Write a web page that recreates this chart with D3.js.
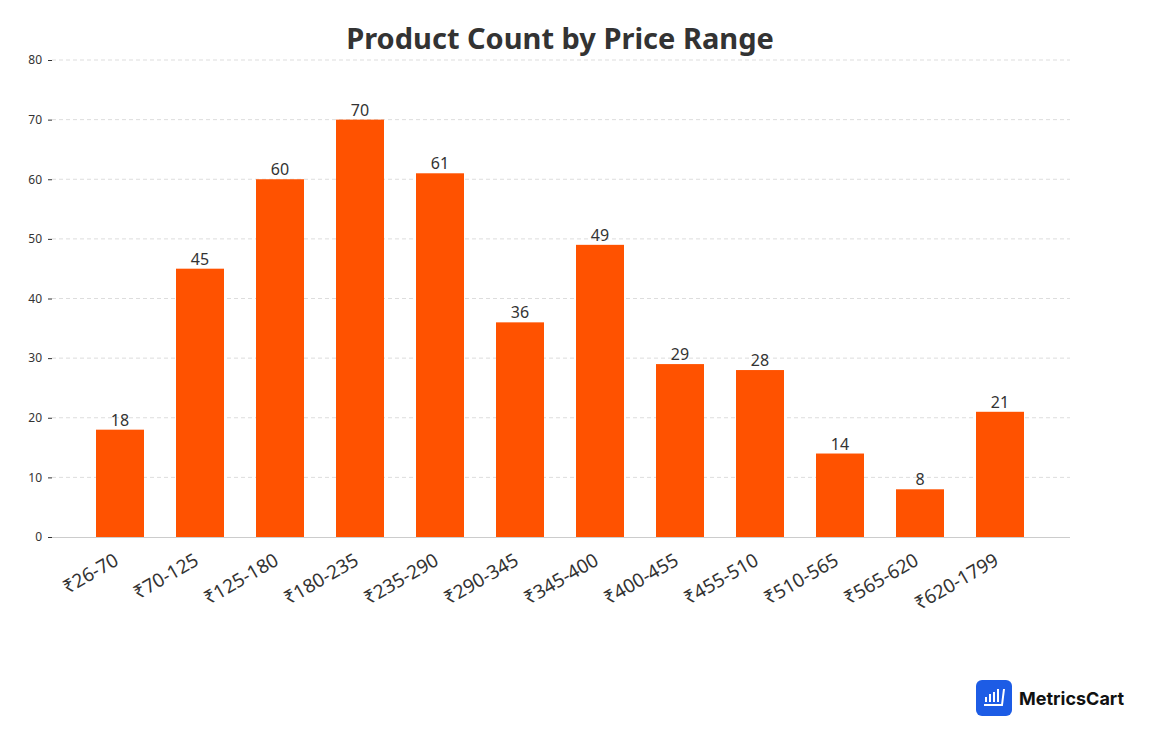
<!DOCTYPE html>
<html><head><meta charset="utf-8">
<script src="https://cdn.jsdelivr.net/npm/d3@7"></script>
<style>body{margin:0;background:#fff;font-family:"Noto Sans","Open Sans",sans-serif}</style>
</head><body><svg id="c" width="1155" height="746"></svg>
<script>
const categories=["₹26-70","₹70-125","₹125-180","₹180-235","₹235-290","₹290-345","₹345-400","₹400-455","₹455-510","₹510-565","₹565-620","₹620-1799"];
const counts=[18,45,60,70,61,36,49,29,28,14,8,21];
const yTicks=[0,10,20,30,40,50,60,70,80];
const svg=d3.select("#c");
const x=d3.scaleBand().domain(categories).range([80,1040]).paddingInner(0.4).paddingOuter(0.2);
const y=d3.scaleLinear().domain([0,80]).range([537,60]);
svg.append("text").attr("x",560).attr("y",49).attr("text-anchor","middle").attr("font-size",29).attr("font-weight","bold").attr("fill","#333").text("Product Count by Price Range");
svg.append("g").selectAll("line").data(yTicks.slice(1)).join("line").attr("x1",52).attr("x2",1070).attr("y1",d=>y(d)).attr("y2",d=>y(d)).attr("stroke","#ddd").attr("stroke-dasharray","4,3");
const ya=svg.append("g").attr("transform","translate(52,0)").call(d3.axisLeft(y).tickValues(yTicks).tickSize(4).tickPadding(6));
ya.select(".domain").remove();
ya.selectAll("text").attr("font-size",12).attr("fill","#333").attr("font-family","Noto Sans");
ya.selectAll("line").attr("stroke","#333");
svg.selectAll("rect.b").data(counts).join("rect").attr("class","b").attr("x",(d,i)=>x(categories[i])).attr("width",x.bandwidth()).attr("y",d=>y(d)).attr("height",d=>537-y(d)).attr("fill","#ff5200");
svg.selectAll("text.v").data(counts).join("text").attr("class","v").attr("x",(d,i)=>x(categories[i])+x.bandwidth()/2).attr("y",d=>y(d)-4).attr("text-anchor","middle").attr("font-size",16).attr("fill","#333").text(d=>d);
svg.append("line").attr("x1",52).attr("x2",1070).attr("y1",537.5).attr("y2",537.5).attr("stroke","#ccc");
const xa=svg.append("g").attr("transform","translate(0,537)").call(d3.axisBottom(x).tickSize(0).tickPadding(0));
xa.select(".domain").remove();
xa.selectAll("text").attr("font-size",19).attr("fill","#333").attr("font-family","Noto Sans").attr("text-anchor","end").attr("dy",0).attr("transform","translate(0,27) rotate(-30)").attr("x",0).attr("y",0);
const lg=svg.append("g").attr("transform","translate(976,680)");
lg.append("rect").attr("width",36).attr("height",36).attr("rx",6).attr("fill","#1d5ce5");
lg.append("path").attr("d","M10 22V17M14 22V14M18 22V12M22 22V9M8 25h18l2-16").attr("stroke","#fff").attr("stroke-width",2).attr("fill","none");
lg.append("text").attr("x",43).attr("y",25).attr("font-size",18).attr("font-weight","bold").attr("fill","#111").attr("font-family","Inter").text("MetricsCart");
</script></body></html>
